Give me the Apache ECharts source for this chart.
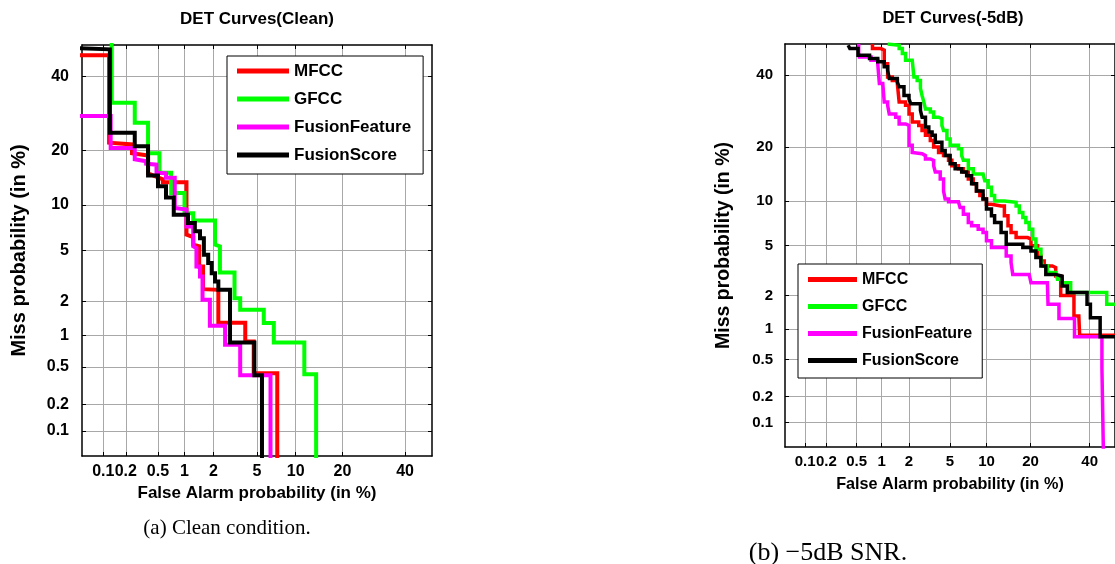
<!DOCTYPE html>
<html>
<head>
<meta charset="utf-8">
<script src="https://cdn.jsdelivr.net/npm/echarts@6/dist/echarts.min.js"></script>
<style>
html, body { margin: 0; padding: 0; background: #fff; }
#det_chart { width: 1115px; height: 564px; }
</style>
</head>
<body>
<div id="det_chart"></div>
<script>
// tick positions (in %) on both axes, normal deviate scale
const tickPcts = [0.1, 0.2, 0.5, 1, 2, 5, 10, 20, 40];
const tickLabels = ['0.1', '0.2', '0.5', '1', '2', '5', '10', '20', '40'];
const minPct = 0.05;
const maxPct = 50;

const seriesNames = ['MFCC', 'GFCC', 'FusionFeature', 'FusionScore'];
const seriesColors = ['#ff0000', '#00ff00', '#ff00ff', '#000000'];

// [false alarm %, miss %] — clean condition
const cleanMfcc = [[0.04,46.7],[0.12,46.7],[0.12,21.7],[0.24,21.3],[0.24,19.3],[0.38,18.8],[0.38,15.2],[0.57,14.1],[0.57,13.6],[1.05,13.6],[1.05,6.45],[1.24,6.2],[1.24,5.5],[1.43,5.35],[1.43,3.81],[1.57,3.81],[1.57,2.53],[2.23,2.5],[2.23,1.31],[3.96,1.31],[3.96,0.88],[4.69,0.88],[4.69,0.43],[7.29,0.43],[7.29,0.04]];
const cleanGfcc = [[0.13,55],[0.13,32.2],[0.26,32.2],[0.26,26.7],[0.38,26.7],[0.38,19.3],[0.52,19.3],[0.52,15.3],[0.71,15.3],[0.71,11.8],[1.0,11.8],[1.0,8.9],[1.24,8.9],[1.24,8.0],[2.07,8.0],[2.07,5.5],[2.31,5.35],[2.31,3.43],[3.17,3.43],[3.17,2.13],[3.57,2.13],[3.57,1.70],[5.69,1.70],[5.69,1.30],[6.85,1.30],[6.85,0.86],[11.5,0.86],[11.5,0.42],[13.8,0.42],[13.8,0.04]];
const cleanFusionFeature = [[0.04,28.5],[0.126,28.5],[0.126,20.5],[0.26,20.5],[0.26,18.0],[0.36,17.6],[0.36,17.1],[0.48,16.9],[0.48,15.3],[0.62,15.2],[0.62,14.4],[0.78,14.4],[0.78,9.6],[1.05,9.4],[1.05,7.3],[1.24,7.3],[1.24,5.35],[1.34,5.2],[1.34,3.81],[1.46,3.81],[1.46,3.19],[1.55,3.19],[1.55,2.07],[1.84,2.07],[1.84,1.23],[2.59,1.23],[2.59,0.82],[3.57,0.82],[3.57,0.41],[6.45,0.41],[6.45,0.04]];
const cleanFusionScore = [[0.04,49.0],[0.123,48.6],[0.123,24.1],[0.26,24.1],[0.26,20.9],[0.38,20.9],[0.38,14.8],[0.50,14.8],[0.50,12.9],[0.62,12.9],[0.62,11.1],[0.76,11.1],[0.76,8.7],[1.09,8.7],[1.09,7.7],[1.29,7.7],[1.29,6.8],[1.46,6.8],[1.46,6.1],[1.60,6.1],[1.60,4.66],[1.77,4.66],[1.77,4.04],[1.92,4.04],[1.92,3.39],[2.07,3.39],[2.07,2.92],[2.23,2.92],[2.23,2.5],[2.88,2.5],[2.88,0.86],[4.75,0.86],[4.75,0.41],[5.5,0.41],[5.5,0.04]];

// -5dB SNR (drawn as steps)
const noisyMfcc = [[0.78,50],[0.78,48.5],[0.98,48.0],[1.07,46.9],[1.07,43.6],[1.17,39.4],[1.32,38.3],[1.50,37.3],[1.57,31.8],[1.84,30.8],[2.0,28.4],[2.16,26.2],[2.52,25.3],[2.72,24.0],[2.94,22.8],[3.28,21.5],[3.53,20.0],[3.93,18.8],[4.37,18.1],[4.85,17.1],[5.19,16.0],[5.93,15.4],[6.53,14.8],[7.18,13.5],[7.88,12.7],[8.36,11.5],[8.89,10.8],[9.42,10.3],[10.0,9.55],[10.9,9.3],[12.8,9.3],[13.5,8.05],[14.3,6.9],[15.0,6.19],[16.2,5.7],[19.2,5.56],[20.1,4.97],[22.0,4.18],[23.0,3.83],[24.0,3.5],[26.6,3.4],[27.7,2.91],[29.4,2.41],[29.4,2.0],[34.1,2.0],[34.1,1.32],[35.9,1.27],[36.2,0.87],[50,0.87]];
const noisyGfcc = [[1.17,50],[1.22,49.6],[1.57,48.5],[1.70,46.9],[1.84,44.7],[2.16,44.2],[2.25,39.4],[2.43,38.3],[2.62,35.8],[2.72,33.7],[2.83,31.8],[2.94,29.8],[3.28,28.9],[3.53,27.5],[3.93,27.1],[4.22,25.3],[4.37,24.0],[4.69,21.9],[5.01,20.4],[5.93,19.6],[6.32,18.1],[6.53,17.1],[7.18,15.4],[7.88,14.4],[9.42,14.1],[9.71,13.2],[10.3,12.1],[10.9,10.8],[11.5,10.0],[13.5,9.8],[16.2,9.3],[17.0,8.46],[17.9,7.84],[18.7,7.26],[19.6,6.53],[20.6,5.56],[21.5,4.7],[23.0,3.95],[23.5,3.5],[25.0,3.1],[27.7,3.0],[28.3,2.74],[29.9,2.57],[32.9,2.57],[32.9,2.12],[46.7,2.12],[46.7,1.68],[50,1.68]];
const noisyFusionFeature = [[0.53,50],[0.53,46.9],[0.54,45.8],[0.75,44.7],[0.90,43.6],[0.94,37.3],[1.03,36.8],[1.07,31.8],[1.17,30.8],[1.22,28.4],[1.44,27.5],[1.57,25.7],[1.84,25.3],[2.0,20.4],[2.16,18.8],[2.25,18.5],[2.72,18.1],[2.94,17.4],[3.28,17.1],[3.53,16.0],[3.66,14.8],[4.07,13.5],[4.37,11.5],[4.52,10.3],[4.85,9.9],[5.93,9.8],[6.12,9.1],[6.53,8.24],[7.18,7.26],[7.64,6.9],[8.63,6.53],[9.42,6.19],[10.0,5.4],[10.9,4.83],[12.8,4.83],[13.9,4.18],[15.0,3.71],[15.4,3.0],[19.6,2.91],[20.1,2.57],[25.0,2.49],[25.2,1.68],[28.8,1.68],[28.8,1.25],[34.3,1.25],[34.3,0.84],[44.8,0.84],[44.8,0.41],[45.4,0.41],[45.4,0.04]];
const noisyFusionScore = [[0.39,49.6],[0.41,48.5],[0.49,48.5],[0.52,46.3],[0.72,45.3],[0.90,44.2],[1.07,42.6],[1.17,41.5],[1.22,38.9],[1.50,37.8],[1.57,36.3],[1.77,33.7],[2.0,32.7],[2.08,31.3],[2.62,29.4],[2.72,27.5],[2.94,24.9],[3.17,23.6],[3.41,22.8],[3.66,21.1],[4.22,19.2],[4.52,18.1],[5.01,16.4],[5.55,15.4],[6.32,14.8],[6.96,14.1],[7.64,12.7],[8.36,11.5],[9.42,10.3],[10.0,8.9],[10.9,8.05],[11.5,7.26],[12.8,6.19],[13.9,5.11],[16.6,5.11],[17.9,4.83],[20.1,4.56],[21.5,4.06],[23.0,3.5],[24.5,3.0],[27.7,2.91],[29.9,2.41],[31.7,2.12],[39.0,2.12],[39.0,1.68],[40.3,1.68],[40.3,1.27],[44.1,1.27],[44.1,0.84],[50,0.84]];

const cleanData = [cleanMfcc, cleanGfcc, cleanFusionFeature, cleanFusionScore];
const noisyData = [noisyMfcc, noisyGfcc, noisyFusionFeature, noisyFusionScore];

const FONT = '"Liberation Sans", Arial, Helvetica, sans-serif';
const SERIF = '"Liberation Serif", "Times New Roman", serif';

// percent -> normal deviate (DET axis warping)
function probit(pct) {
  const p = pct / 100;
  const q = p < 0.5 ? p : 1 - p;
  const t = Math.sqrt(-2 * Math.log(q));
  const z = t - (2.515517 + 0.802853 * t + 0.010328 * t * t) /
    (1 + 1.432788 * t + 0.189269 * t * t + 0.001308 * t * t * t);
  return p < 0.5 ? -z : z;
}

const tickValues = tickPcts.map(probit);

function tickLabel(v) {
  let best = 0;
  tickValues.forEach((t, i) => {
    if (Math.abs(t - v) < Math.abs(tickValues[best] - v)) best = i;
  });
  return tickLabels[best];
}

function detAxis(gridIndex, position, opts) {
  const main = position === 'bottom' || position === 'left';
  return {
    type: 'value',
    gridIndex: gridIndex,
    position: position,
    min: probit(minPct),
    max: probit(maxPct),
    name: main ? opts.name : '',
    nameLocation: 'middle',
    nameGap: opts.nameGap,
    nameTextStyle: {
      color: '#000',
      fontFamily: FONT,
      fontWeight: 'bold',
      fontSize: opts.nameSize
    },
    axisLine: { show: true, onZero: false, lineStyle: { color: '#000', width: 1.5 } },
    axisTick: {
      show: true,
      inside: true,
      length: 4,
      customValues: tickValues,
      lineStyle: { color: '#000', width: 1 }
    },
    axisLabel: {
      show: main,
      customValues: tickValues,
      formatter: tickLabel,
      hideOverlap: false,
      margin: opts.labelMargin,
      color: '#000',
      fontFamily: FONT,
      fontWeight: 'bold',
      fontSize: opts.labelSize
    },
    splitLine: {
      show: main,
      lineStyle: { color: '#a8a8a8', width: 1 }
    }
  };
}

function detSeries(dataList, axisIndex, width, step) {
  return dataList.map((d, i) => ({
    name: seriesNames[i],
    type: 'line',
    xAxisIndex: axisIndex,
    yAxisIndex: axisIndex,
    data: d.map(p => [probit(p[0]), probit(p[1])]),
    step: step,
    showSymbol: false,
    symbol: 'none',
    clip: true,
    lineStyle: { color: seriesColors[i], width: width, join: 'miter' },
    itemStyle: { color: seriesColors[i] },
    z: 2 + i
  }));
}

function detLegend(left, top, padding, itemWidth, itemGap, fontSize) {
  return {
    data: seriesNames,
    orient: 'vertical',
    left: left,
    top: top,
    padding: padding,
    itemWidth: itemWidth,
    itemHeight: 5,
    itemGap: itemGap,
    icon: 'rect',
    backgroundColor: '#fff',
    borderColor: '#000',
    borderWidth: 1,
    borderRadius: 0,
    selectedMode: false,
    textStyle: {
      color: '#000',
      fontFamily: FONT,
      fontWeight: 'bold',
      fontSize: fontSize,
      lineHeight: fontSize + 1
    }
  };
}

const chart = echarts.init(document.getElementById('det_chart'));

const leftOpts = { nameGap: 29, nameSize: 17, labelMargin: 8, labelSize: 16 };
const leftYOpts = { nameGap: 53, nameSize: 20, labelMargin: 13, labelSize: 16 };
const rightOpts = { nameGap: 30, nameSize: 16.2, labelMargin: 7, labelSize: 15 };
const rightYOpts = { nameGap: 51, nameSize: 19.5, labelMargin: 12, labelSize: 15 };

const option = {
  backgroundColor: '#fff',
  animation: false,
  grid: [
    { left: 82, top: 45, width: 350, height: 411 },
    { left: 785, top: 44, width: 333, height: 403 }
  ],
  xAxis: [
    detAxis(0, 'bottom', Object.assign({ name: 'False Alarm probability (in %)' }, leftOpts)),
    detAxis(0, 'top', leftOpts),
    detAxis(1, 'bottom', Object.assign({ name: 'False Alarm probability (in %)' }, rightOpts)),
    detAxis(1, 'top', rightOpts)
  ],
  yAxis: [
    detAxis(0, 'left', Object.assign({ name: 'Miss probability (in %)' }, leftYOpts)),
    detAxis(0, 'right', leftYOpts),
    detAxis(1, 'left', Object.assign({ name: 'Miss probability (in %)' }, rightYOpts)),
    detAxis(1, 'right', rightYOpts)
  ],
  legend: [
    detLegend(227, 56, [6, 12, 10, 10], 52, 10, 17),
    detLegend(798, 264, [7, 10, 9, 10], 49, 10, 16)
  ],
  graphic: [
    { type: 'text', x: 257, y: 19, style: { text: 'DET Curves(Clean)', font: 'bold 17px ' + FONT, fill: '#000', textAlign: 'center', textVerticalAlign: 'middle' } },
    { type: 'text', x: 953, y: 18, style: { text: 'DET Curves(-5dB)', font: 'bold 16.5px ' + FONT, fill: '#000', textAlign: 'center', textVerticalAlign: 'middle' } },
    { type: 'text', x: 227, y: 528, style: { text: '(a) Clean condition.', font: '21px ' + SERIF, fill: '#000', textAlign: 'center', textVerticalAlign: 'middle' } },
    { type: 'text', x: 828, y: 553, style: { text: '(b) \u22125dB SNR.', font: '26px ' + SERIF, fill: '#000', textAlign: 'center', textVerticalAlign: 'middle' } }
  ],
  series: detSeries(cleanData, 0, 4, false).concat(detSeries(noisyData, 2, 3.5, 'end'))
};

chart.setOption(option);
</script>
</body>
</html>
